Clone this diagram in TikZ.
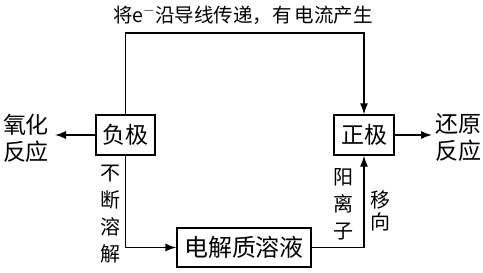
\documentclass[tikz,border=0pt]{standalone}
\usepackage{fontspec}
\newfontfamily\cjk{Noto Sans CJK SC}
\usetikzlibrary{arrows.meta}
\begin{document}
\begin{tikzpicture}[x=1pt,y=-1pt,
  every node/.style={font=\cjk\fontsize{20}{22}\selectfont, inner sep=0pt},
  box/.style={draw, line width=1.3pt, minimum height=40pt},
  wire/.style={line width=1.3pt},
  arr/.style={wire, -{Latex[length=11pt,width=8pt]}},
  big/.style={font=\cjk\fontsize{23}{27}\selectfont},
  vlabel/.style={align=center, font=\cjk\fontsize{20}{27}\selectfont}]
\useasboundingbox (0,0) rectangle (483,273);
\node[box, big, minimum width=59pt] (neg) at (125.5,135) {负极};
\node[box, big, minimum width=60pt] (pos) at (364,135) {正极};
\node[box, font=\cjk\fontsize{24}{27}\selectfont, minimum width=134pt, minimum height=39pt] (sol) at (244,247.5) {电解质溶液};
\node[big, align=center, font=\cjk\fontsize{23}{27}\selectfont] (ox) at (26,138) {氧化\\反应};
\node[big, align=center, font=\cjk\fontsize{23}{27}\selectfont] (red) at (458,138) {还原\\反应};
\node[font=\cjk\fontsize{19.5}{22}\selectfont] (top) at (243,15) {将e$^-$沿导线传递，有\,电流产生};
\node[vlabel] (dis) at (110,214) {不\\断\\溶\\解};
\node[vlabel] (cat) at (343,204) {阳\\离\\子};
\node[vlabel, font=\cjk\fontsize{20}{22}\selectfont] (mov) at (380,211) {移\\向};
\coordinate (wtop) at (0,33);
\coordinate (oxend) at (55,135);
\coordinate (redend) at (432,135);
\draw[arr] (neg.north) -- (neg.north |- wtop) -| (pos.north);
\draw[arr] (neg.west) -- (oxend);
\draw[arr] (pos.east) -- (redend);
\draw[arr] (neg.south) |- (sol.west);
\draw[arr] (sol.east) -| (pos.south);
\end{tikzpicture}
\end{document}
